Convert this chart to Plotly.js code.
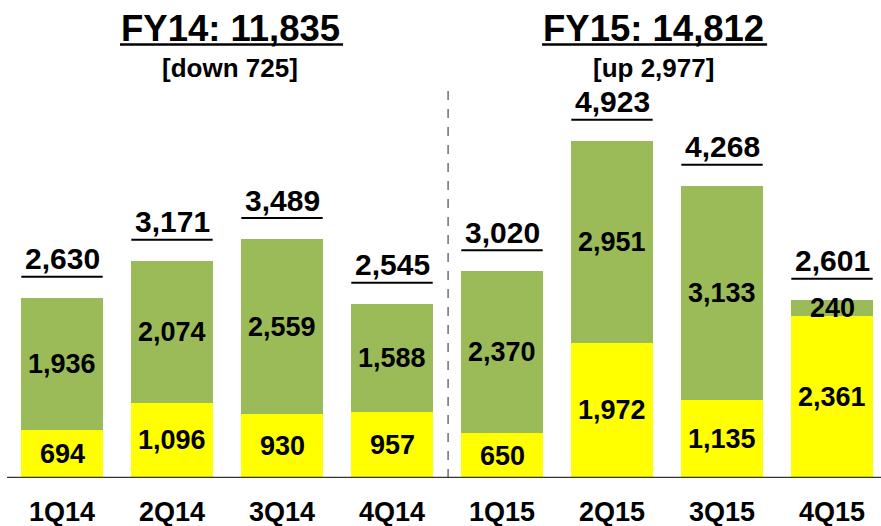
<!DOCTYPE html>
<html>
<head>
<meta charset="utf-8">
<script src="https://cdn.plot.ly/plotly-3.0.1.min.js"></script>
<style>html,body{margin:0;padding:0;background:#fff;}#chart{width:881px;height:526px;}</style>
</head>
<body>
<div id="chart"></div>
<script>
var quarters = ["1Q14","2Q14","3Q14","4Q14","1Q15","2Q15","3Q15","4Q15"];
var yellowVals = [694, 1096, 930, 957, 650, 1972, 1135, 2361];
var greenVals = [1936, 2074, 2559, 1588, 2370, 2951, 3133, 240];
var totals = [2630, 3171, 3489, 2545, 3020, 4923, 4268, 2601];
var fyTitles = ["FY14: 11,835", "FY15: 14,812"];
var fySubtitles = ["[down 725]", "[up 2,977]"];

var FONT = "Liberation Sans, Arial, sans-serif";
var xs = quarters.map(function(_, i){ return i; });
function fmt(v){ return v.toLocaleString("en-US"); }

var traces = [
  {type:"bar", x:xs, y:yellowVals, marker:{color:"#FFFF00"}, width:0.745, hoverinfo:"none", showlegend:false},
  {type:"bar", x:xs, y:greenVals, marker:{color:"#9BBB59"}, width:0.745, hoverinfo:"none", showlegend:false}
];

var annotations = [];
var shapes = [];
xs.forEach(function(x, i){
  annotations.push({x:x, y:yellowVals[i]/2, xref:"x", yref:"y", yanchor:"middle", text:"<b>"+fmt(yellowVals[i])+"</b>",
    showarrow:false, font:{family:FONT, size:27, color:"#000"}});
  annotations.push({x:x, y:yellowVals[i]+greenVals[i]/2, xref:"x", yref:"y", yanchor:"middle", text:"<b>"+fmt(greenVals[i])+"</b>",
    showarrow:false, font:{family:FONT, size:27, color:"#000"}});
  annotations.push({x:x, y:totals[i], xref:"x", yref:"y", yanchor:"middle", yshift:39, text:"<b>"+fmt(totals[i])+"</b>",
    showarrow:false, font:{family:FONT, size:30, color:"#000"}});
  shapes.push({type:"line", xref:"x", yref:"y", ysizemode:"pixel", yanchor:totals[i],
    x0:x-0.37, x1:x+0.37, y0:21, y1:21, line:{color:"#000", width:2}});
});

var titleX = [1.53, 5.38];
var ulX = [[0.527, 2.555], [4.364, 6.41]];
fyTitles.forEach(function(t, k){
  annotations.push({x:titleX[k], y:0.9414, xref:"x", yref:"paper", yanchor:"middle", text:"<b>"+t+"</b>",
    showarrow:false, font:{family:FONT, size:36.5, color:"#000"}});
  annotations.push({x:titleX[k], y:0.858, xref:"x", yref:"paper", yanchor:"middle", text:"<b>"+fySubtitles[k]+"</b>",
    showarrow:false, font:{family:FONT, size:26, color:"#000"}});
  shapes.push({type:"line", xref:"x", yref:"paper", x0:ulX[k][0], x1:ulX[k][1], y0:0.907, y1:0.907,
    line:{color:"#000", width:2.5}});
});

// divider between fiscal years
shapes.push({type:"line", xref:"x", yref:"paper", x0:3.51, x1:3.51, y0:0, y1:(478-88)/478,
  line:{color:"#707070", width:1.5, dash:"dash"}});
// baseline
shapes.push({type:"line", xref:"paper", yref:"y", x0:0.008, x1:1, y0:0, y1:0,
  line:{color:"#333", width:2.5}});

var layout = {
  width:881, height:526,
  margin:{l:0, r:0, t:0, b:48, pad:0},
  paper_bgcolor:"#fff", plot_bgcolor:"#fff",
  barmode:"stack",
  showlegend:false,
  xaxis:{range:[-0.5636, 7.4455], tickvals:xs, ticktext:quarters.map(function(q){return "<b>"+q+"</b>";}),
    tickfont:{family:FONT, size:27, color:"#000"}, showgrid:false, zeroline:false, showline:false,
    ticks:"", ticklabelstandoff:15, fixedrange:true},
  yaxis:{range:[0, 6978], visible:false, showgrid:false, zeroline:false, fixedrange:true},
  annotations:annotations,
  shapes:shapes
};

Plotly.newPlot("chart", traces, layout, {displayModeBar:false, staticPlot:true});
</script>
</body>
</html>
